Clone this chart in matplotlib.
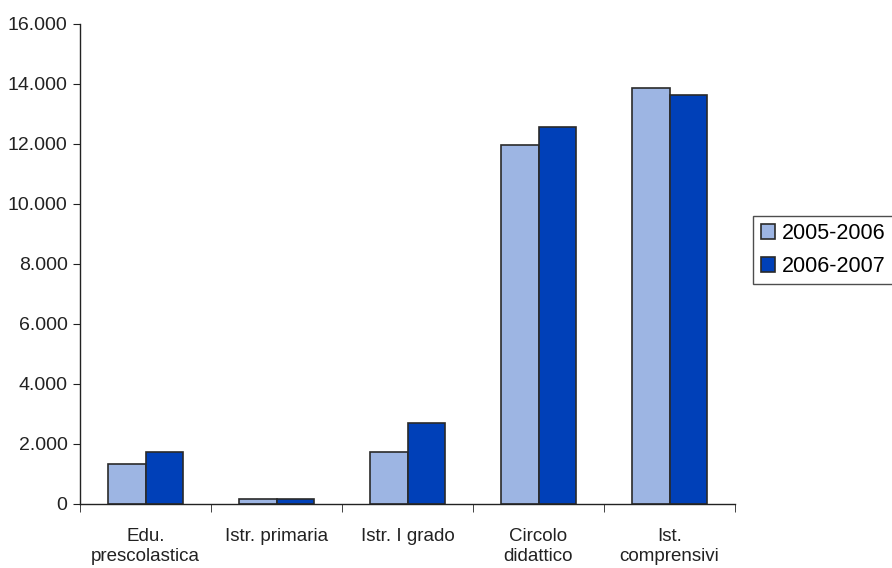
import matplotlib
matplotlib.use("Agg")
import matplotlib.pyplot as plt
import numpy as np

categories = ["Edu.\nprescolastica", "Istr. primaria", "Istr. I grado", "Circolo\ndidattico", "Ist.\ncomprensivi"]
s2005 = [1330, 160, 1730, 11950, 13850]
s2006 = [1730, 160, 2700, 12550, 13630]
series_labels = ["2005-2006", "2006-2007"]
yticks = [0, 2000, 4000, 6000, 8000, 10000, 12000, 14000, 16000]
ytick_labels = ["0", "2.000", "4.000", "6.000", "8.000", "10.000", "12.000", "14.000", "16.000"]

plt.rcParams['font.family'] = ['Liberation Sans', 'DejaVu Sans']
fig = plt.figure(figsize=(8.92, 5.68), dpi=100)
ax = fig.add_axes([80/892, 64/568, 655/892, 480.5/568])

x = np.arange(len(categories))
w = 0.287
ax.bar(x - w/2, s2005, w, color='#9DB5E3', edgecolor='#2a2a2a', linewidth=1.2, label=series_labels[0])
ax.bar(x + w/2, s2006, w, color='#0040B8', edgecolor='#2a2a2a', linewidth=1.2, label=series_labels[1])

ax.set_xlim(-0.5, len(categories) - 0.5)
ax.set_ylim(0, 16000)
ax.set_yticks(yticks)
ax.set_yticklabels(ytick_labels, fontsize=14, color='#222222')
ax.set_xticks(x)
ax.set_xticklabels(categories, fontsize=13.5, color='#222222', linespacing=1.25)
ax.tick_params(axis='x', length=0, pad=17)
ax.set_xticks(np.arange(-0.5, len(categories), 1), minor=True)
ax.tick_params(axis='x', which='minor', length=6, direction='out', color='#222222')
ax.tick_params(axis='y', length=5, direction='out', color='#222222', pad=4)
for s in ['top', 'right']:
    ax.spines[s].set_visible(False)
for s in ['left', 'bottom']:
    ax.spines[s].set_color('#222222')
    ax.spines[s].set_linewidth(1.0)

leg = fig.legend(loc='center left', bbox_to_anchor=(753/892, 1 - 250/568), fontsize=15.5,
                 frameon=True, fancybox=False, edgecolor='#222222', handlelength=0.65,
                 handleheight=0.65, handletextpad=0.35, borderpad=0.35, labelspacing=0.55,
                 borderaxespad=0)
leg.get_frame().set_linewidth(1.0)

fig.savefig("out.png", dpi=100)
